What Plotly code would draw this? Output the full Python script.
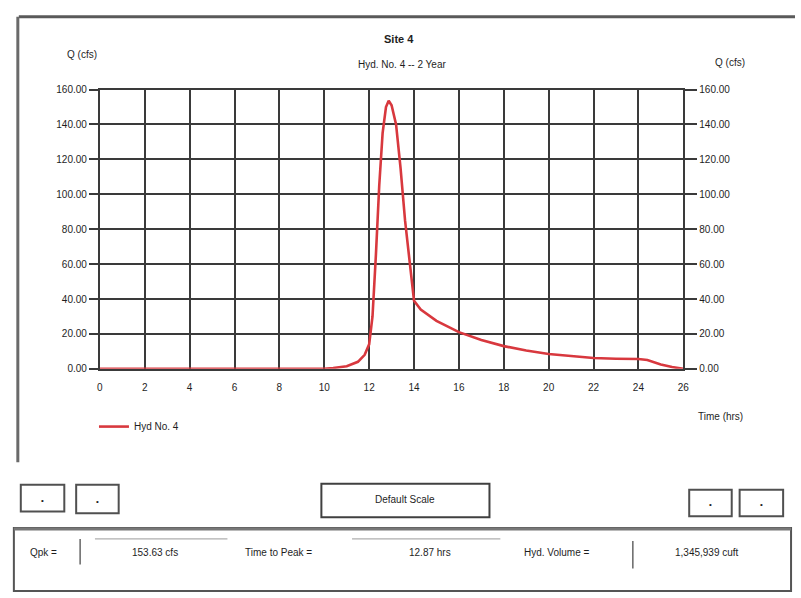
import plotly.graph_objects as go

# Hydrograph ordinates for Hyd. No. 4 (2-year event)
time_hrs = [0, 2, 4, 6, 8, 10, 10.4, 11, 11.5, 11.8, 12.0, 12.15, 12.3, 12.45,
            12.6, 12.75, 12.87, 13.0, 13.2, 13.4, 13.6, 13.8, 14.0, 14.3, 14.7,
            15.0, 16, 17, 18, 19, 20, 21, 22, 23, 24, 24.4, 25.0, 25.5, 26]
flow_cfs = [0, 0, 0, 0, 0, 0, 0.5, 1.5, 4, 8, 14, 30, 65, 105,
            135, 150, 153.63, 151, 140, 115, 85, 60, 39, 34, 30,
            27.5, 21, 16.5, 13, 10.5, 8.5, 7.2, 6.2, 5.8, 5.6, 5, 2.5, 1, 0]

x_ticks = list(range(0, 27, 2))
y_ticks = list(range(0, 161, 20))

title_text = "Site 4"
subtitle_text = "Hyd. No. 4 -- 2 Year"
series_name = "Hyd No. 4"
peak_flow = "153.63 cfs"
time_to_peak = "12.87 hrs"
hyd_volume = "1,345,939 cuft"

W, H = 801, 598
FONT = "Liberation Sans Narrow, Arial Narrow, Liberation Sans, Arial"
INK = "#1e1e1e"
GRID = "#3a3a3a"


def px(x):
    return x / W


def py(y):
    return 1 - y / H


fig = go.Figure()
fig.add_trace(go.Scatter(
    x=time_hrs, y=flow_cfs, mode="lines", name=series_name,
    line=dict(color="#d8383e", width=2.6),
))
# invisible trace to carry the right-hand axis
fig.add_trace(go.Scatter(x=[0, 26], y=[0, 160], yaxis="y2", mode="lines",
                         line=dict(width=0), showlegend=False, hoverinfo="skip"))

axis_font = dict(family=FONT, size=10, color=INK)

fig.update_layout(
    width=W, height=H,
    margin=dict(l=0, r=0, t=0, b=0),
    paper_bgcolor="white", plot_bgcolor="white",
    font=dict(family=FONT, color=INK),
    xaxis=dict(
        domain=[px(98), px(688)], range=[0, 26],
        tickvals=x_ticks, ticktext=[str(v) for v in x_ticks],
        showgrid=True, gridcolor=GRID, gridwidth=2,
        zeroline=False, showline=True, mirror=True,
        linecolor=GRID, linewidth=2,
        ticks="", tickfont=axis_font, ticklabelstandoff=8,
        fixedrange=True,
    ),
    yaxis=dict(
        domain=[py(370), py(86)], range=[0, 160],
        tickvals=y_ticks, tickformat=".2f",
        showgrid=True, gridcolor=GRID, gridwidth=2,
        zeroline=False, showline=True, mirror=True,
        linecolor=GRID, linewidth=2,
        ticks="outside", ticklen=9, tickwidth=2, tickcolor=GRID,
        tickfont=axis_font, fixedrange=True,
    ),
    yaxis2=dict(
        overlaying="y", side="right", range=[0, 160],
        tickvals=y_ticks, tickformat=".2f",
        showgrid=False, zeroline=False, showline=False,
        ticks="outside", ticklen=13, tickwidth=2, tickcolor=GRID,
        tickfont=axis_font, fixedrange=True,
    ),
    legend=dict(
        x=px(92), y=py(414), xanchor="left", yanchor="top",
        bgcolor="rgba(0,0,0,0)", font=dict(family=FONT, size=10, color=INK),
        itemwidth=30,
    ),
    showlegend=True,
)

shapes = []
annotations = []


def text(x, y, s, size=10, anchor="center", bold=False):
    annotations.append(dict(
        x=px(x), y=py(y), xref="paper", yref="paper", text=f"<b>{s}</b>" if bold else s,
        showarrow=False, xanchor=anchor, yanchor="middle",
        font=dict(family=FONT, size=size, color=INK),
    ))


def box(x0, y0, x1, y1, width=2, color="#4a4a4a"):
    shapes.append(dict(type="rect", xref="paper", yref="paper",
                       x0=px(x0), y0=py(y1), x1=px(x1), y1=py(y0),
                       line=dict(color=color, width=width)))


def seg(x0, y0, x1, y1, width=1, color="#555555"):
    shapes.append(dict(type="line", xref="paper", yref="paper",
                       x0=px(x0), y0=py(y0), x1=px(x1), y1=py(y1),
                       line=dict(color=color, width=width)))


# window frame around the chart
seg(16, 12, 801, 12, width=3, color="#5a5a5a")
seg(15, 12, 15, 465, width=3, color="#6a6a6a")

# titles and axis captions
text(400, 35, title_text, size=11, bold=True)
text(404, 61, subtitle_text, size=10)
text(80, 50, "Q (cfs)", size=10)
text(735, 58, "Q (cfs)", size=10)
text(726, 418, "Time (hrs)", size=10)

# navigation buttons
for x0, x1, y0, y1 in [(18, 62, 488, 515), (74, 117, 488, 517),
                       (694, 737, 493, 520), (745, 789, 493, 520)]:
    box(x0, y0, x1, y1, width=2, color="#505050")
    text((x0 + x1) / 2, (y0 + y1) / 2 + 2, "\u2022", size=8)

box(322, 487, 492, 521, width=2, color="#404040")
text(407, 503, "Default Scale", size=10)

# summary panel
box(11, 532, 797, 596, width=2, color="#555555")
seg(11, 533, 797, 533, width=3, color="#777777")
text(25, 557, "Qpk =", size=10, anchor="left")
seg(78, 543, 78, 569, width=1.5, color="#666666")
seg(93, 543, 227, 543, width=1, color="#9a9a9a")
text(154, 557, peak_flow, size=10)
text(243, 557, "Time to Peak =", size=10, anchor="left")
seg(353, 543, 503, 543, width=1, color="#9a9a9a")
text(432, 557, time_to_peak, size=10)
text(525, 557, "Hyd. Volume =", size=10, anchor="left")
seg(637, 545, 637, 573, width=1.5, color="#666666")
text(712, 557, hyd_volume, size=10)

fig.update_layout(shapes=shapes, annotations=annotations)

fig.write_html("out.html")
